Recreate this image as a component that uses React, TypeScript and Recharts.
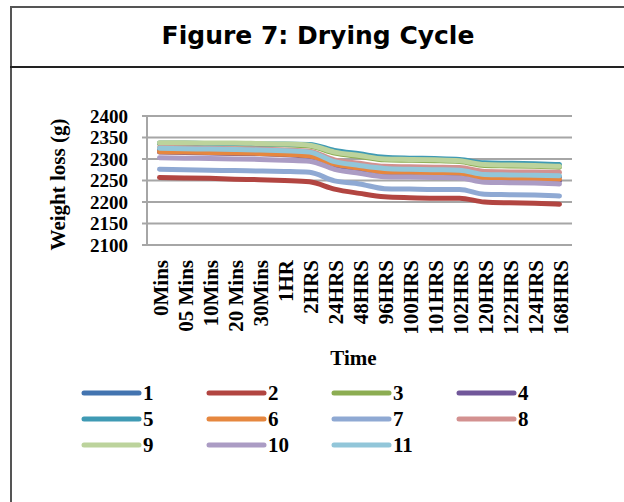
import React from "react";
import { LineChart, Line, XAxis, YAxis, CartesianGrid, Legend } from "recharts";

// Sampling times along the drying cycle
const timeLabels = [
  "0Mins", "05 Mins", "10Mins", "20 Mins", "30Mins", "1HR", "2HRS",
  "24HRS", "48HRS", "96HRS", "100HRS", "101HRS", "102HRS",
  "120HRS", "122HRS", "124HRS", "168HRS",
];

// Weight (g) of each sample at every sampling time
const sample1 = [2322, 2321, 2320, 2319, 2318, 2316, 2313, 2291, 2282, 2275, 2273, 2272, 2271, 2261, 2260, 2259, 2258];
const sample2 = [2257, 2256, 2255, 2253, 2252, 2250, 2247, 2230, 2220, 2212, 2210, 2209, 2209, 2200, 2198, 2197, 2195];
const sample3 = [2336, 2336, 2335, 2335, 2334, 2333, 2330, 2314, 2306, 2298, 2297, 2296, 2294, 2285, 2284, 2283, 2281];
const sample4 = [2316, 2315, 2314, 2313, 2312, 2310, 2306, 2286, 2276, 2267, 2265, 2265, 2264, 2252, 2251, 2250, 2249];
const sample5 = [2337, 2337, 2336, 2336, 2335, 2335, 2334, 2320, 2312, 2304, 2302, 2301, 2299, 2291, 2290, 2289, 2287];
const sample6 = [2317, 2316, 2315, 2314, 2313, 2311, 2307, 2288, 2279, 2270, 2269, 2268, 2267, 2256, 2255, 2254, 2253];
const sample7 = [2276, 2275, 2274, 2273, 2272, 2271, 2269, 2249, 2242, 2231, 2230, 2229, 2229, 2218, 2217, 2216, 2214];
const sample8 = [2327, 2326, 2325, 2324, 2323, 2321, 2318, 2298, 2290, 2283, 2282, 2281, 2280, 2271, 2270, 2270, 2269];
const sample9 = [2338, 2338, 2337, 2337, 2336, 2335, 2332, 2316, 2308, 2300, 2299, 2298, 2296, 2287, 2286, 2285, 2283];
const sample10 = [2303, 2302, 2301, 2300, 2299, 2297, 2295, 2276, 2267, 2259, 2258, 2257, 2256, 2246, 2245, 2244, 2242];
const sample11 = [2325, 2324, 2323, 2322, 2321, 2319, 2316, 2294, 2285, 2278, 2276, 2275, 2274, 2264, 2263, 2262, 2261];

const seriesNames = ["1", "2", "3", "4", "5", "6", "7", "8", "9", "10", "11"];
const seriesValues = [sample1, sample2, sample3, sample4, sample5, sample6, sample7, sample8, sample9, sample10, sample11];
const seriesColors = [
  "#4374b0", "#b24541", "#8cad52", "#71579a", "#3f9ab4", "#e6873f",
  "#8fa9d3", "#d39190", "#bcd39c", "#ab9cc4", "#92c6d9",
];

const yTicks = [2100, 2150, 2200, 2250, 2300, 2350, 2400];

// Category slots: each sampling time sits in the middle of its slot
const slotEdges = timeLabels.map((_, i) => i).concat([timeLabels.length]);
const slotCentres = timeLabels.map((_, i) => i + 0.5);

const data = timeLabels.map((label, i) => {
  const row: Record<string, number | string> = { label, pos: i + 0.5 };
  seriesNames.forEach((name, s) => {
    row["s" + name] = seriesValues[s][i];
  });
  return row;
});

const SERIF = "'Liberation Serif', 'Times New Roman', serif";
const GRID = "#a6a6a6";
const LABEL_SIZE = 21;
const Y_TICK_SIZE = 19;

const TimeTick = (props: any) => {
  const { x, y, payload } = props;
  const idx = Math.round(payload.value - 0.5);
  return (
    <text
      x={x}
      y={y}
      transform={`rotate(-90, ${x}, ${y})`}
      textAnchor="end"
      dy="0.4em"
      fontFamily={SERIF}
      fontWeight="bold"
      fontSize={LABEL_SIZE}
      fill="#000"
    >
      {timeLabels[idx]}
    </text>
  );
};

const YTitle = (props: any) => {
  const vb = props.viewBox || { x: 0, y: 116, width: 147, height: 129 };
  const cx = vb.x + 58;
  const cy = vb.y + vb.height / 2 + 4;
  return (
    <text
      x={cx}
      y={cy}
      transform={`rotate(-90, ${cx}, ${cy})`}
      textAnchor="middle"
      dominantBaseline="central"
      fontFamily={SERIF}
      fontWeight="bold"
      fontSize={LABEL_SIZE}
      fill="#000"
    >
      Weight loss (g)
    </text>
  );
};

const XTitle = (props: any) => {
  const vb = props.viewBox || { x: 147, y: 251, width: 425, height: 121 };
  return (
    <text
      x={vb.x + vb.width / 2 - 6}
      y={vb.y + 107}
      textAnchor="middle"
      dominantBaseline="central"
      fontFamily={SERIF}
      fontWeight="bold"
      fontSize={LABEL_SIZE}
      fill="#000"
    >
      Time
    </text>
  );
};

const LegendGrid = (props: any) => {
  const items = ((props.payload || []) as any[])
    .slice()
    .sort((a, b) => seriesNames.indexOf(String(a.value)) - seriesNames.indexOf(String(b.value)));
  return (
    <div style={{ position: "relative", width: 624, height: 90 }}>
      {items.map((item, i) => {
        const col = i % 4;
        const row = Math.floor(i / 4);
        return (
          <div
            key={item.value}
            style={{
              position: "absolute",
              left: 81 + col * 125,
              top: row * 26,
              height: 26,
              display: "flex",
              alignItems: "center",
            }}
          >
            <svg width={62} height={10} style={{ display: "block" }}>
              <line
                x1={3}
                y1={5}
                x2={58}
                y2={5}
                stroke={item.color}
                strokeWidth={5}
                strokeLinecap="round"
              />
            </svg>
            <span
              style={{
                fontFamily: SERIF,
                fontWeight: "bold",
                fontSize: LABEL_SIZE,
                color: "#000",
                lineHeight: "21px",
              }}
            >
              {item.value}
            </span>
          </div>
        );
      })}
    </div>
  );
};

export default function App() {
  return (
    <div
      style={{
        position: "absolute",
        left: 0,
        top: 0,
        width: 624,
        height: 502,
        overflow: "hidden",
        background: "#fff",
      }}
    >
      {/* frame around the figure */}
      <div
        style={{
          position: "absolute",
          left: 10,
          top: 6,
          width: 640,
          height: 520,
          borderLeft: "2px solid #555",
          borderTop: "2px solid #555",
        }}
      />
      <div
        style={{
          position: "absolute",
          left: 10,
          top: 66,
          width: 640,
          height: 2,
          background: "#222",
        }}
      />
      <div
        style={{
          position: "absolute",
          left: 12,
          top: 18,
          width: 612,
          textAlign: "center",
          fontFamily: "'DejaVu Sans', Verdana, sans-serif",
          fontWeight: "bold",
          fontSize: 25,
          lineHeight: "36px",
          color: "#000",
        }}
      >
        Figure 7: Drying Cycle
      </div>

      <div style={{ position: "absolute", left: 0, top: 0 }}>
        <LineChart
          width={624}
          height={502}
          data={data}
          margin={{ top: 116, right: 52, left: 0, bottom: 130 }}
        >
          <CartesianGrid vertical={false} stroke={GRID} strokeWidth={2} />
          <XAxis
            type="number"
            dataKey="pos"
            domain={[0, timeLabels.length]}
            ticks={slotEdges}
            interval={0}
            tick={false}
            height={6}
            tickSize={6}
            stroke={GRID}
            axisLine={{ stroke: GRID, strokeWidth: 2 }}
            tickLine={{ stroke: GRID, strokeWidth: 2 }}
          />
          <XAxis
            xAxisId="names"
            type="number"
            dataKey="pos"
            domain={[0, timeLabels.length]}
            ticks={slotCentres}
            interval={0}
            height={121}
            axisLine={false}
            tickLine={false}
            tickSize={0}
            tickMargin={9}
            tick={<TimeTick />}
            label={<XTitle />}
          />
          <YAxis
            width={147}
            domain={[2100, 2400]}
            ticks={yTicks}
            interval={0}
            tickSize={5}
            tickMargin={14}
            axisLine={{ stroke: GRID, strokeWidth: 2 }}
            tickLine={{ stroke: GRID, strokeWidth: 2 }}
            tick={{ fontFamily: SERIF, fontWeight: "bold", fontSize: Y_TICK_SIZE, fill: "#000" }}
            label={<YTitle />}
          />
          {seriesNames.map((name, s) => (
            <Line
              key={name}
              name={name}
              dataKey={"s" + name}
              type="monotone"
              stroke={seriesColors[s]}
              strokeWidth={5}
              strokeLinecap="round"
              strokeLinejoin="round"
              dot={false}
              activeDot={false}
              isAnimationActive={false}
            />
          ))}
          <Legend
            layout="horizontal"
            verticalAlign="middle"
            align="center"
            content={<LegendGrid />}
            wrapperStyle={{ position: "absolute", left: 0, top: 380, width: 624, height: 90 }}
          />
        </LineChart>
      </div>
    </div>
  );
}
